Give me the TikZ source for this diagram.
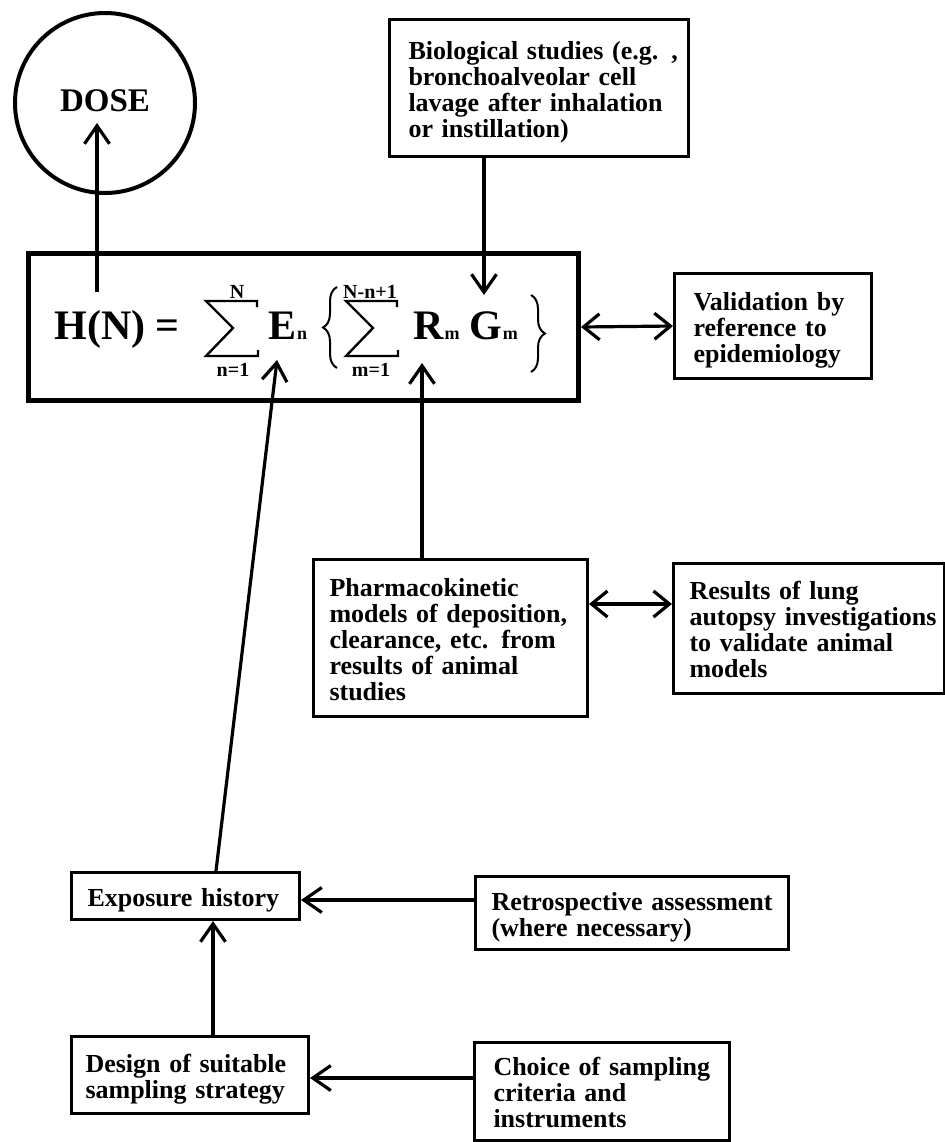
\documentclass[tikz,border=0pt]{standalone}
\usepackage{fontspec}
\setmainfont{Liberation Serif}
\usetikzlibrary{arrows.meta,decorations.pathreplacing}
\newcommand\tl[1]{\raisebox{-2.5pt}[\height][\depth]{\begin{tabular}{@{}l@{}}#1\end{tabular}}}
\begin{document}
\begin{tikzpicture}[x=0.5pt,y=-0.5pt,
  boxfont/.style={font=\fontsize{13pt}{13pt}\selectfont\bfseries},
  tbox/.style={draw, line width=1.5pt, anchor=north west, align=left, boxfont, inner ysep=0pt},
  arr/.style={line width=1.6pt, -{Straight Barb[length=9pt,width=12.5pt]}},
  darr/.style={line width=1.6pt, {Straight Barb[length=8pt,width=13pt]}-{Straight Barb[length=8pt,width=13pt]}},
  ffont/.style={font=\fontsize{21pt}{21pt}\selectfont\bfseries, inner sep=0pt, anchor=base west},
  lim/.style={font=\fontsize{10pt}{10pt}\selectfont\bfseries, inner sep=0pt, anchor=base},
  subs/.style={font=\fontsize{9pt}{9pt}\selectfont\bfseries, inner sep=0pt, anchor=base west},
  bracestyle/.style={line width=1pt, decorate, decoration={brace, amplitude=7pt}},
  sumsign/.pic={\draw[line width=1.2pt] (51,6) -- (51,0) -- (0,0) -- (27,27) -- (0,55) -- (52,55) -- (52,49);},
]
\useasboundingbox (0,0) rectangle (945,1142);

% DOSE circle
\node[circle, draw, line width=2pt, minimum size=90pt, inner sep=0pt,
      font=\fontsize{16.5pt}{16.5pt}\selectfont\bfseries] (dose) at (105,103) {\raisebox{2pt}{DOSE}};

% boxes
\node[draw, line width=2.5pt, anchor=north west, minimum width=275pt, minimum height=73.5pt, inner sep=0pt] (main) at (26,251) {};
\node[tbox, text width=130.5pt, inner xsep=9.5pt, minimum height=68.5pt] (bio) at (388,18)
  {\tl{Biological studies (e.g. ,\\ bronchoalveolar cell\\ lavage after inhalation\\ or instillation)}};
\node[tbox, text width=79.5pt, inner xsep=9.5pt, minimum height=52.5pt] (val) at (673,272)
  {\tl{Validation by\\ reference to\\ epidemiology}};
\node[tbox, text width=121pt, inner xsep=8pt, minimum height=78.5pt] (pharma) at (312,558)
  {\tl{Pharmacokinetic\\ models of deposition,\\ clearance, etc. from\\ results of animal\\ studies}};
\node[tbox, text width=119.5pt, inner xsep=8pt, minimum height=65pt] (results) at (672,562)
  {\tl{Results of lung\\ autopsy investigations\\ to validate animal\\ models}};
\node[tbox, text width=98pt, inner xsep=8pt, minimum height=23.5pt] (expo) at (70,871)
  {\tl{Exposure history}};
\node[tbox, text width=140.5pt, inner xsep=8pt, minimum height=36.5pt] (retro) at (474,875)
  {\tl{Retrospective assessment\\ (where necessary)}};
\node[tbox, text width=104.5pt, inner xsep=7pt, minimum height=38.5pt] (design) at (70,1035)
  {\tl{Design of suitable\\ sampling strategy}};
\node[tbox, text width=108.5pt, inner xsep=9.5pt, minimum height=49pt] (choice) at (473,1041)
  {\tl{Choice of sampling\\ criteria and\\ instruments}};

% formula
\node[ffont] (fh) at (54,339) {H(N) =};
\pic at (206,301) {sumsign};
\node[lim] (fup1) at (237,298) {N};
\node[lim] (flo1) at (233,376) {n=1};
\node[ffont] (fe) at (268,339) {E};
\node[subs] (fen) at (fe.base east) {n};
\draw[bracestyle] (337,368) -- (337,287);
\pic at (346,301) {sumsign};
\node[lim] (fup2) at (370,298) {N-n+1};
\node[lim] (flo2) at (371,376) {m=1};
\node[ffont] (fr) at (413,339) {R};
\node[subs] (frm) at (fr.base east) {m};
\node[ffont] (fg) at (469,339) {G};
\node[subs] (fgm) at (fg.base east) {m};
\draw[bracestyle] (531,295) -- (531,372);

% connectors
\coordinate (dtail) at (97,292);
\coordinate (dtip) at (97,123);
\draw[arr] (dtail) -- (dtip);
\coordinate (gtip) at (484,295);
\draw[arr] (bio.south -| gtip) -- (gtip);
\draw[darr] (main.east) -- (val.west);
\coordinate (rtip) at (422,363);
\draw[arr] (pharma.north -| rtip) -- (rtip);
\coordinate (pr) at (600,604);
\draw[darr] (pharma.east |- pr) -- (results.west |- pr);
\coordinate (etip) at (277,360);
\coordinate (ebase) at (216,871);
\draw[arr] (expo.north -| ebase) -- (etip);
\coordinate (re) at (400,900);
\draw[arr] (retro.west |- re) -- (expo.east |- re);
\coordinate (de) at (213,1000);
\draw[arr] (design.north -| de) -- (expo.south -| de);
\coordinate (cd) at (400,1078);
\draw[arr] (choice.west |- cd) -- (design.east |- cd);
\end{tikzpicture}
\end{document}
